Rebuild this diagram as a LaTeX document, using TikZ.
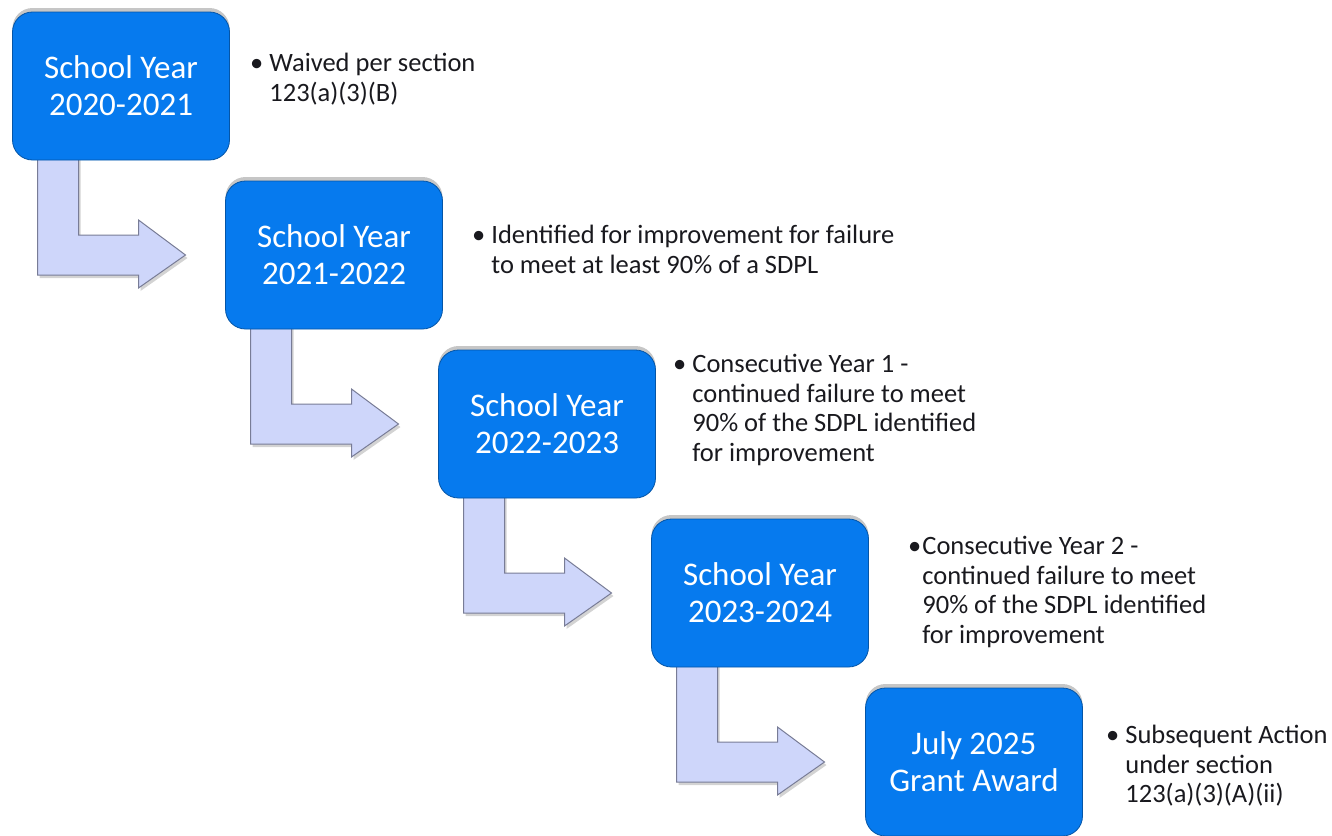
\documentclass[tikz,border=0pt]{standalone}
\usepackage{fontspec}
\setmainfont{Carlito}
\usetikzlibrary{shadows,calc}
\definecolor{boxblue}{RGB}{6,122,238}
\definecolor{arrowfill}{RGB}{206,214,250}
\definecolor{arrowline}{RGB}{120,124,150}
\definecolor{txt}{RGB}{25,25,30}
\tikzset{
  yearbox/.style={rectangle, rounded corners=20pt, fill=boxblue, draw=boxblue!70!black, line width=0.8pt,
    minimum width=217pt, minimum height=148pt, align=center, text=white,
    font=\fontsize{33}{37}\selectfont,
    drop shadow={shadow xshift=0pt, shadow yshift=4pt, opacity=0.45, fill=gray}},
  bentarrow/.style={fill=arrowfill, draw=arrowline, line width=1pt, line join=miter,
    drop shadow={shadow xshift=2pt, shadow yshift=-3pt, opacity=0.35, fill=gray}},
  note/.style={anchor=north west, inner sep=0pt, text=txt, align=left,
    font=\fontsize{26.5}{29.5}\selectfont}
}
\begin{document}
\begin{tikzpicture}[x=1pt,y=-1pt]
\useasboundingbox (0,0) rectangle (1332,835);
\coordinate (c1) at (121,86);
\coordinate (c2) at (334,255);
\coordinate (c3) at (547,424);
\coordinate (c4) at (760,593);
\coordinate (c5) at (974,762);
% bent arrows
\foreach \i in {1,2,3,4}{
  \begin{scope}[shift={($(c\i)+(-108.5,74)$)}]
    \draw[bentarrow] (25,-6) -- (66,-6) -- (66,75) -- (126,75) -- (126,60) -- (173,95) -- (126,128) -- (126,115) -- (25,115) -- cycle;
  \end{scope}
}
\node[yearbox] (b1) at (c1) {School Year\\2020-2021};
\node[yearbox] (b2) at (c2) {School Year\\2021-2022};
\node[yearbox] (b3) at (c3) {School Year\\2022-2023};
\node[yearbox] (b4) at (c4) {School Year\\2023-2024};
\node[yearbox] (b5) at (c5) {July 2025\\Grant Award};
% notes
\node[note] (n1) at (250,51) {\begin{tabular}{@{}l@{\hspace{6pt}}l@{}}•&Waived per section\\&123(a)(3)(B)\end{tabular}};
\node[note] (n2) at (472,223) {\begin{tabular}{@{}l@{\hspace{6pt}}l@{}}•&Identified for improvement for failure\\&to meet at least 90\% of a SDPL\end{tabular}};
\node[note] (n3) at (673,352) {\begin{tabular}{@{}l@{\hspace{6pt}}l@{}}•&Consecutive Year 1 -\\&continued failure to meet\\&90\% of the SDPL identified\\&for improvement\end{tabular}};
\node[note] (n4) at (908,534) {\begin{tabular}{@{}l@{\hspace{1pt}}l@{}}•&Consecutive Year 2 -\\&continued failure to meet\\&90\% of the SDPL identified\\&for improvement\end{tabular}};
\node[note] (n5) at (1106,723) {\begin{tabular}{@{}l@{\hspace{6pt}}l@{}}•&Subsequent Action\\&under section\\&123(a)(3)(A)(ii)\end{tabular}};
\end{tikzpicture}
\end{document}
